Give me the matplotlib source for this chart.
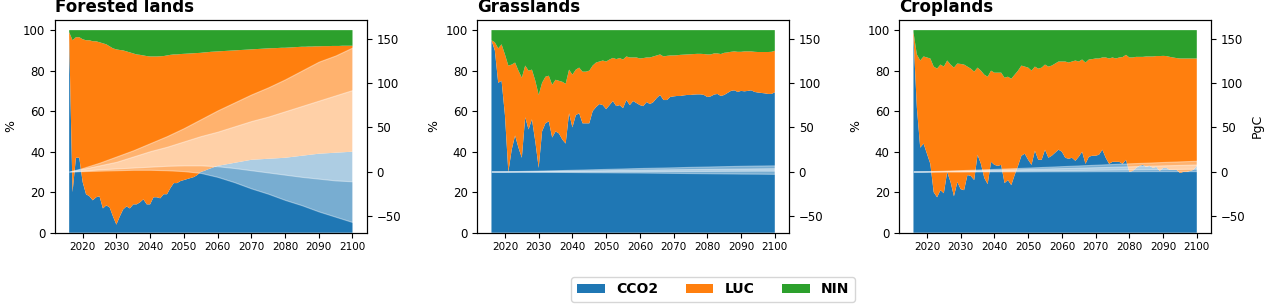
import matplotlib
matplotlib.use('Agg')
import matplotlib.pyplot as plt


# Years of the percentage stacks (annual)
years = list(range(2016, 2101))
# Years of the cumulative PgC bands on the right axis
pg_years = [2016, 2020, 2025, 2030, 2035, 2040, 2045, 2050, 2055, 2060,
            2065, 2070, 2075, 2080, 2085, 2090, 2095, 2100]

# Forested lands, shares in %
fo_cco2 = [97, 20, 37, 37, 25, 19, 18, 16, 17.5, 18,
           12, 13.5, 12.5, 8, 4, 8, 11.5, 13, 12, 14,
           14, 15, 16.5, 14, 14, 17.5, 17.5, 17, 19, 19,
           22, 24.5, 24.5, 25.5, 26, 26.5, 27, 27.5, 28.5, 30,
           30.5, 31.2, 31.8, 32.4, 33, 33.3, 33.6, 33.9, 34.2, 34.5,
           34.8, 35.1, 35.4, 35.7, 36, 36.1, 36.2, 36.3, 36.4, 36.5,
           36.6, 36.7, 36.8, 36.9, 37, 37.2, 37.4, 37.6, 37.8, 38,
           38.2, 38.4, 38.6, 38.8, 39, 39.1, 39.2, 39.3, 39.4, 39.5,
           39.6, 39.7, 39.8, 39.9, 40]
fo_nin = [1, 5, 3.5, 3.5, 4.5, 5, 5, 5.5, 5.5, 6,
          6.5, 7, 8, 9, 9.5, 9.8, 10, 10.5, 11, 11.5,
          12, 12.2, 12.5, 12.8, 13, 13, 13, 12.9, 12.8, 12.5,
          12.2, 12, 12, 11.8, 11.7, 11.6, 11.5, 11.4, 11.3, 11.2,
          11, 10.9, 10.7, 10.6, 10.5, 10.4, 10.3, 10.2, 10.1, 10,
          9.9, 9.8, 9.7, 9.6, 9.5, 9.4, 9.3, 9.2, 9.1, 9,
          8.9, 8.9, 8.8, 8.7, 8.7, 8.6, 8.5, 8.4, 8.3, 8.2,
          8.2, 8.1, 8.1, 8, 8, 7.9, 7.9, 7.9, 7.8, 7.8,
          7.8, 7.7, 7.7, 7.7, 7.7]

# Grasslands, shares in %
gr_cco2 = [95, 90, 74, 75, 58, 30, 41, 48, 42, 37,
           57, 51, 56, 45, 32, 50, 54, 55, 47, 50,
           49, 46, 44, 59, 52, 58, 59, 54, 54, 54,
           60, 62, 63.5, 63, 61, 63, 65, 62.5, 63, 61.5,
           65.5, 63, 65, 64, 63, 62.5, 64.5, 63.5, 64.5, 66.5,
           68, 65.5, 65.5, 67, 67.3, 67.5, 67.5, 67.8, 68, 68,
           68.2, 68.3, 68.3, 68, 67, 67.3, 68.2, 68.5, 67.5, 68,
           69, 70, 70.3, 69.5, 70, 69.8, 70, 70.3, 69.5, 69.2,
           69, 68.8, 68.5, 68.5, 69.3]
gr_nin = [5, 6, 9, 7, 12, 17.5, 17, 16, 20, 23.5,
          17.5, 20, 19.5, 25, 32, 26, 23, 22.5, 27, 24.5,
          25, 25.5, 26.5, 19.5, 22, 19.5, 18.5, 20.5, 20.5, 20,
          17.5, 16, 15.5, 15, 15.5, 14.5, 13.7, 14.3, 13.8, 14.5,
          13, 13.5, 13.5, 13.5, 14, 13.8, 13.5, 13.5, 13, 12.5,
          12, 13, 12.7, 12.5, 12.5, 12.4, 12.2, 12.1, 12, 11.9,
          11.8, 11.7, 11.7, 11.8, 12, 12, 11.5, 11.5, 11.8, 11.2,
          11, 10.7, 10.5, 10.7, 10.7, 10.5, 10.5, 10.5, 10.7, 10.8,
          10.8, 10.8, 10.8, 10.7, 10.2]

# Croplands, shares in %
cr_cco2 = [97, 62, 42, 44, 39, 34, 20, 17.5, 21, 19.5,
           30, 25, 18, 25, 21.5, 21, 28.5, 28, 26, 38.5,
           34, 27, 24, 35, 33.5, 33, 33.5, 24.5, 26, 23.5,
           28.5, 33, 38, 39, 36, 33.5, 40.5, 36, 36, 41,
           37, 38, 39.5, 41, 40, 37, 36.5, 37, 35.5, 37.5,
           40, 34, 37.5, 38, 38, 38.5, 41, 37, 34, 35,
           35, 35, 34, 36, 30, 30.5, 32, 33, 33.5, 32.5,
           33, 32, 32.5, 30.5, 32, 32, 31, 31, 31, 29.5,
           30, 30, 30.5, 31, 33]
cr_nin = [1, 12, 15, 13, 13.5, 14, 18, 19, 17, 18,
          15, 17, 18.5, 16.5, 16.7, 17, 18, 19, 20.5, 18.5,
          20, 22, 23, 20, 21, 21, 21, 23.5, 23, 24,
          22, 20, 17.5, 18, 18.5, 20, 18, 19, 18.5, 17,
          18, 17.5, 16.5, 15.5, 15.5, 15.5, 16, 15.5, 15, 15.5,
          14.5, 16, 14.5, 14.3, 14, 14, 13.5, 13.5, 14, 13.5,
          14, 13.5, 13.3, 12.2, 13.5, 13.5, 13.2, 13.2, 13.2, 13,
          13, 13, 12.8, 12.8, 12.7, 12.8, 13.2, 13.5, 13.8, 14,
          14, 14, 14, 14, 14]

# Cumulative PgC band edges (right axis)
fo_top = [0, 4, 10, 17, 24, 32, 40, 49, 59, 69, 78, 87, 95, 104, 114, 124, 131, 140]
fo_upper = [0, 3, 7, 11, 17, 23, 28, 34, 40, 45, 51, 57, 62, 68, 74, 80, 86, 92]
fo_lower = [0, 1, 2.5, 3.5, 4.5, 5.5, 6.5, 7, 7, 6, 4, 1.5, -1, -3.5, -6, -8, -10, -11]
fo_bottom = [0, 0.5, 1, 1.5, 2, 2, 1.5, 0.5, -1.5, -6, -12, -19, -25, -32, -38, -45, -51, -57]

gr_top = [0, 0.3, 0.7, 1.1, 1.5, 2, 2.5, 3, 3.5, 4, 4.4, 4.8, 5.3, 5.7, 6.1, 6.5, 6.8, 7]
gr_upper = [0, 0.2, 0.4, 0.6, 0.8, 1.1, 1.3, 1.6, 1.9, 2.1, 2.4, 2.6, 2.8, 3, 3.2, 3.4, 3.6, 3.8]
gr_lower = [0, 0, 0.1, 0.1, 0.2, 0.2, 0.3, 0.3, 0.4, 0.4, 0.5, 0.6, 0.6, 0.7, 0.8, 0.9, 1, 1]
gr_bottom = [0, -0.1, -0.2, -0.3, -0.4, -0.5, -0.7, -0.8, -1, -1.1, -1.3, -1.5, -1.7, -1.9, -2.1, -2.3, -2.4, -2.6]

cr_top = [0, 0.4, 1, 1.6, 2.3, 3, 3.7, 4.5, 5.3, 6.1, 6.9, 7.7, 8.5, 9.3, 10, 10.8, 11.5, 12.2]
cr_upper = [0, 0.3, 0.6, 1, 1.4, 1.9, 2.4, 2.9, 3.4, 3.9, 4.4, 4.9, 5.4, 5.9, 6.5, 7, 7.5, 8]
cr_lower = [0, 0.1, 0.3, 0.4, 0.6, 0.8, 1, 1.2, 1.4, 1.6, 1.8, 2, 2.2, 2.4, 2.6, 2.8, 3, 3.2]
cr_bottom = [0, 0, 0.1, 0.1, 0.1, 0.2, 0.2, 0.2, 0.3, 0.3, 0.3, 0.4, 0.4, 0.4, 0.5, 0.5, 0.5, 0.5]

titles = ['Forested lands', 'Grasslands', 'Croplands']
labels = ['CCO2', 'LUC', 'NIN']


def plotPanel(fig, left, title, cco2, nin, bands, last):
    ax = fig.add_axes([left / 1269, 0.2345, 0.2456, 0.6997])
    # LUC fills the gap up to 100 %
    luc = [100 - c - n for c, n in zip(cco2, nin)]
    polys = ax.stackplot(years, cco2, luc, nin,
                         colors=['C0', 'C1', 'C2'], labels=labels)
    ax.set_ylim(0, 105)
    ax.set_yticks(range(0, 101, 20))
    ax.set_xticks(range(2020, 2101, 10))
    ax.tick_params(axis='x', labelsize=7.5)
    ax.tick_params(axis='y', labelsize=8.5)
    ax.set_ylabel('%', fontsize=9)
    ax.set_title(title, loc='left', fontweight='bold', fontsize=12)

    # Cumulative carbon on the right axis, drawn as white veils
    top, upper, lower, bottom = bands
    ax2 = ax.twinx()
    ax2.fill_between(pg_years, bottom, upper, color='white', alpha=0.4, lw=0.8)
    ax2.fill_between(pg_years, lower, top, color='white', alpha=0.4, lw=0.8)
    ax2.set_ylim(-69, 171)
    ax2.set_yticks([-50, 0, 50, 100, 150])
    ax2.tick_params(axis='y', labelsize=8.5)
    if last:
        ax2.set_ylabel('PgC', fontsize=9)
    return polys


if __name__ == '__main__':
    fig = plt.figure(figsize=(12.69, 3.04), dpi=100)

    lefts = [55, 477.3, 899.3]
    data = [(fo_cco2, fo_nin, (fo_top, fo_upper, fo_lower, fo_bottom)),
            (gr_cco2, gr_nin, (gr_top, gr_upper, gr_lower, gr_bottom)),
            (cr_cco2, cr_nin, (cr_top, cr_upper, cr_lower, cr_bottom))]

    for i in range(3):
        cco2, nin, bands = data[i]
        polys = plotPanel(fig, lefts[i], titles[i], cco2, nin, bands, i == 2)

    fig.legend(polys, labels, loc='lower center', bbox_to_anchor=(0.562, 0.007),
               ncol=3, borderaxespad=0, prop={'weight': 'bold', 'size': 10})

    fig.savefig('out.png', dpi=100)
